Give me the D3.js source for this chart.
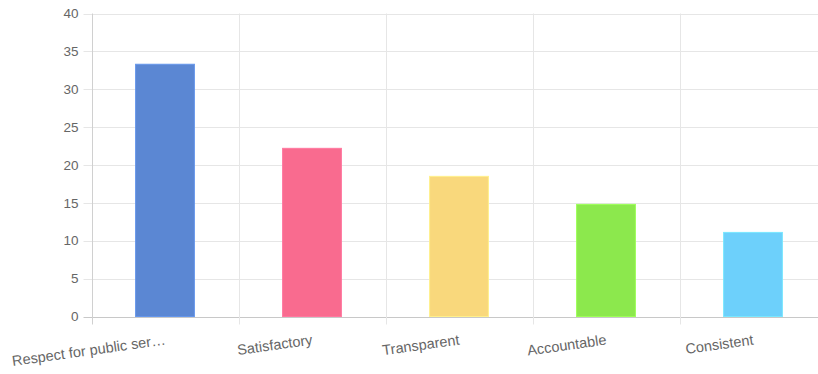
<!DOCTYPE html>
<html>
<head>
<meta charset="utf-8">
<script src="https://cdn.jsdelivr.net/npm/d3@7"></script>
<style>
  html, body { margin: 0; padding: 0; background: #fff; }
  svg { display: block; font-family: "Liberation Sans", Arial, sans-serif; }
</style>
</head>
<body>
<svg id="chart" width="818" height="374"></svg>
<script>
// Category labels (long names are shortened with an ellipsis on the axis)
const categories = ["Respect for public ser\u2026", "Satisfactory", "Transparent", "Accountable", "Consistent"];
// Share of responses per category
const values = [33.3, 22.2, 18.5, 14.8, 11.1];
const barColors = ["#5b87d3", "#f96b8f", "#f9d87c", "#8ce84d", "#6dd0fb"];
const yTicks = [0, 5, 10, 15, 20, 25, 30, 35, 40];

const svg = d3.select("#chart");
const plot = { left: 91.5, right: 826.5, top: 13.5, bottom: 316.5 };

const x = d3.scaleBand().domain(categories).range([plot.left, plot.right]).paddingInner(0).paddingOuter(0);
const y = d3.scaleLinear().domain([0, 40]).range([plot.bottom, plot.top]);

const gridColor = "#e6e6e6";
const textColor = "#666";

// horizontal grid lines
svg.append("g").selectAll("line").data(yTicks).join("line")
  .attr("x1", plot.left - 8).attr("x2", plot.right)
  .attr("y1", d => Math.round(y(d)) + 0.5).attr("y2", d => Math.round(y(d)) + 0.5)
  .attr("stroke", d => d === 0 ? "#c8c8c8" : gridColor)
  .attr("stroke-width", 1);

// vertical grid lines at category boundaries
const bounds = categories.map(c => x(c));
svg.append("g").selectAll("line").data(bounds).join("line")
  .attr("x1", d => Math.round(d) + 0.5).attr("x2", d => Math.round(d) + 0.5)
  .attr("y1", plot.top).attr("y2", plot.bottom + 8)
  .attr("stroke", (d, i) => i === 0 ? "#d0d0d0" : gridColor)
  .attr("stroke-width", 1);

// bars
const barW = x.bandwidth() * 0.4;
svg.append("g").selectAll("rect").data(values).join("rect")
  .attr("x", (d, i) => x(categories[i]) + (x.bandwidth() - barW) / 2)
  .attr("width", barW)
  .attr("y", d => y(d))
  .attr("height", d => y(0) - y(d))
  .attr("fill", (d, i) => barColors[i])
  .attr("stroke", (d, i) => d3.color(barColors[i]).brighter(0.3))
  .attr("stroke-width", 1);

// y-axis labels
svg.append("g").selectAll("text").data(yTicks).join("text")
  .attr("x", plot.left - 13)
  .attr("y", d => y(d))
  .attr("dy", "0.35em")
  .attr("text-anchor", "end")
  .attr("font-size", 13.5)
  .attr("fill", textColor)
  .text(d => d);

// rotated x-axis labels, anchored at the category centre
svg.append("g").selectAll("text").data(categories).join("text")
  .attr("transform", d => `translate(${x(d) + x.bandwidth() / 2 + 1},${plot.bottom + 28}) rotate(-8)`)
  .attr("text-anchor", "end")
  .attr("font-size", 14.5)
  .attr("fill", textColor)
  .text(d => d);
</script>
</body>
</html>
